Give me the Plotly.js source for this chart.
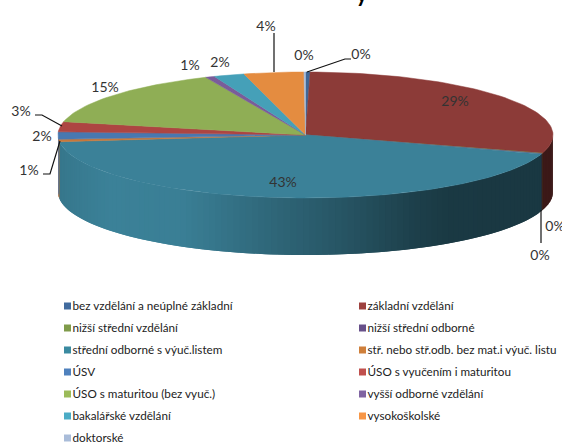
<!DOCTYPE html>
<html>
<head>
<meta charset="utf-8">
<script src="https://cdn.plot.ly/plotly-3.0.1.min.js"></script>
<style>html,body{margin:0;padding:0;background:#fff;overflow:hidden}</style>
</head>
<body>
<div id="chart" style="width:562px;height:442px"></div>
<script>
// Education structure: shares in percent, clockwise from twelve o'clock
const categories = [
  'bez vzdělání a neúplné základní', 'základní vzdělání',
  'nižší střední vzdělání', 'nižší střední odborné',
  'střední odborné s výuč.listem', 'stř. nebo stř.odb. bez mat.i výuč. listu',
  'ÚSV', 'ÚSO s vyučením i maturitou',
  'ÚSO s maturitou (bez vyuč.)', 'vyšší odborné vzdělání',
  'bakalářské vzdělání', 'vysokoškolské',
  'doktorské'
];
const shares = [0.3, 29.4, 0.1, 0.1, 43.4, 0.6, 1.9, 2.6, 15.0, 0.6, 2.0, 3.9, 0.1];

// Slice colours on the lit top face and the matching legend keys
const faceColors = ['#3f6797', '#8c3b38', '#7f9b4a', '#67508a', '#3b8198', '#c9783a',
                    '#4878b0', '#ad4542', '#8fae55', '#7a5c9a', '#45a0b8', '#e48c40', '#a9bcd9'];
const keyColors  = ['#416b9e', '#9e413e', '#7f9b4a', '#67508a', '#3a8aa0', '#cf7f3a',
                    '#4f81bd', '#c0504d', '#9bbb59', '#8064a2', '#4bacc6', '#f79646', '#a9bcd9'];

// Pie geometry in page pixels (axes below map 1:1 to the page)
const CX = 305.5, CY = 135, RX = 247.5, RY = 63, DEPTH = 57;

// Wall lighting by horizontal position: [x, brightness]
const wallLight = [[58, 0.92], [110, 1.0], [183, 0.98], [250, 0.84], [300, 0.74],
                   [350, 0.64], [416, 0.49], [450, 0.44], [553, 0.43]];

// Data label centres and leader lines
const labelSpots = [[361, 55], [455, 102], [555, 227], [540, 256], [283, 183], [29, 171],
                    [42, 137], [21, 112], [105, 88], [190, 66], [220, 63], [266, 27], [304, 56]];
const leaders = [
  [[307, 72], [345, 59], [351, 59]],
  [[274, 33], [274, 72]],
  [[35, 115], [42, 115], [62, 126]],
  [[43, 174], [50, 174], [60, 141]],
  [[541, 210], [541, 243]]
];

const total = shares.reduce((a, b) => a + b, 0);
const rim = deg => {
  const t = deg * Math.PI / 180;
  return [CX + RX * Math.sin(t), CY - RY * Math.cos(t)];
};
const lightAt = x => {
  for (let i = 1; i < wallLight.length; i++) {
    if (x <= wallLight[i][0]) {
      const [x0, v0] = wallLight[i - 1], [x1, v1] = wallLight[i];
      return v0 + (v1 - v0) * (x - x0) / (x1 - x0);
    }
  }
  return wallLight[wallLight.length - 1][1];
};
const shade = (hex, f) => {
  const n = parseInt(hex.slice(1), 16);
  return `rgb(${Math.round((n >> 16) * f)},${Math.round(((n >> 8) & 255) * f)},${Math.round((n & 255) * f)})`;
};

const traces = [];
let angle = 0;
const spans = shares.map(v => {
  const from = angle;
  angle += v / total * 360;
  return [from, angle];
});

// Side wall: overlapping lit strips along the front half of the rim, so no seams show
spans.forEach(([from, to], i) => {
  const a = Math.max(from, 90), b = Math.min(to, 270);
  if (b <= a) return;
  const step = (b - a) / Math.max(1, Math.ceil((b - a) / 1.5));
  for (let s = a; s < b - 1e-6; s += step) {
    const p = rim(s), q = rim(Math.min(s + 2 * step, 270));
    const col = shade(faceColors[i], lightAt(rim(s + step / 2)[0]));
    traces.push({
      type: 'scatter', mode: 'lines', name: categories[i], hoverinfo: 'skip',
      x: [p[0], q[0], q[0], p[0], p[0]],
      y: [p[1], q[1], q[1] + DEPTH, p[1] + DEPTH, p[1]],
      fill: 'toself', fillcolor: col, line: {width: 0}
    });
  }
});

// Top face: one wedge per category
spans.forEach(([from, to], i) => {
  const xs = [CX], ys = [CY];
  const n = Math.max(2, Math.ceil((to - from) / 1.5));
  for (let k = 0; k <= n; k++) {
    const p = rim(from + (to - from) * k / n);
    xs.push(p[0]); ys.push(p[1]);
  }
  xs.push(CX); ys.push(CY);
  traces.push({
    type: 'scatter', mode: 'lines', name: categories[i],
    x: xs, y: ys, fill: 'toself', fillcolor: faceColors[i],
    line: {color: faceColors[i], width: 0.5},
    text: `${categories[i]}: ${shares[i]} %`, hoverinfo: 'text'
  });
});

// Leader lines
leaders.forEach(pts => traces.push({
  type: 'scatter', mode: 'lines', hoverinfo: 'skip',
  x: pts.map(p => p[0]), y: pts.map(p => p[1]),
  line: {color: '#111', width: 1.2}
}));

// Percentage labels
traces.push({
  type: 'scatter', mode: 'text', hoverinfo: 'skip', cliponaxis: false,
  x: labelSpots.map(p => p[0]), y: labelSpots.map(p => p[1]),
  text: shares.map(v => Math.round(v / total * 100) + '%'),
  textposition: 'middle center',
  textfont: {family: 'Lato, sans-serif', size: 14, color: '#333'}
});

// Two-column key below the pie: swatches, then their captions
const keyX = categories.map((_, i) => i % 2 ? 362.5 : 67.5);
const keyY = categories.map((_, i) => 306 + 22 * Math.floor(i / 2));
traces.push({
  type: 'scatter', mode: 'markers', hoverinfo: 'skip', cliponaxis: false,
  x: keyX, y: keyY,
  marker: {symbol: 'square', size: 7, color: keyColors, line: {width: 0}}
});
traces.push({
  type: 'scatter', mode: 'text', hoverinfo: 'skip', cliponaxis: false,
  x: keyX.map(v => v + 5), y: keyY.map(v => v + 1.5),
  text: categories,
  textposition: 'middle right',
  textfont: {family: 'Lato, sans-serif', size: 11.7, color: '#222'}
});

const layout = {
  width: 562, height: 442,
  margin: {l: 0, r: 0, t: 0, b: 0},
  paper_bgcolor: '#fff', plot_bgcolor: '#fff',
  showlegend: false,
  xaxis: {range: [0, 562], visible: false, fixedrange: true},
  yaxis: {range: [442, 0], visible: false, fixedrange: true},
  annotations: [{
    // Tail of the heading, which runs off the top edge of the page
    text: '<b>y</b>', showarrow: false, xref: 'paper', yref: 'paper',
    x: 0.644, y: 1.014, xanchor: 'center', yanchor: 'middle',
    font: {family: 'Lato, sans-serif', size: 22, color: '#000'}
  }]
};

Plotly.newPlot('chart', traces, layout, {displayModeBar: false, responsive: false});
</script>
</body>
</html>
